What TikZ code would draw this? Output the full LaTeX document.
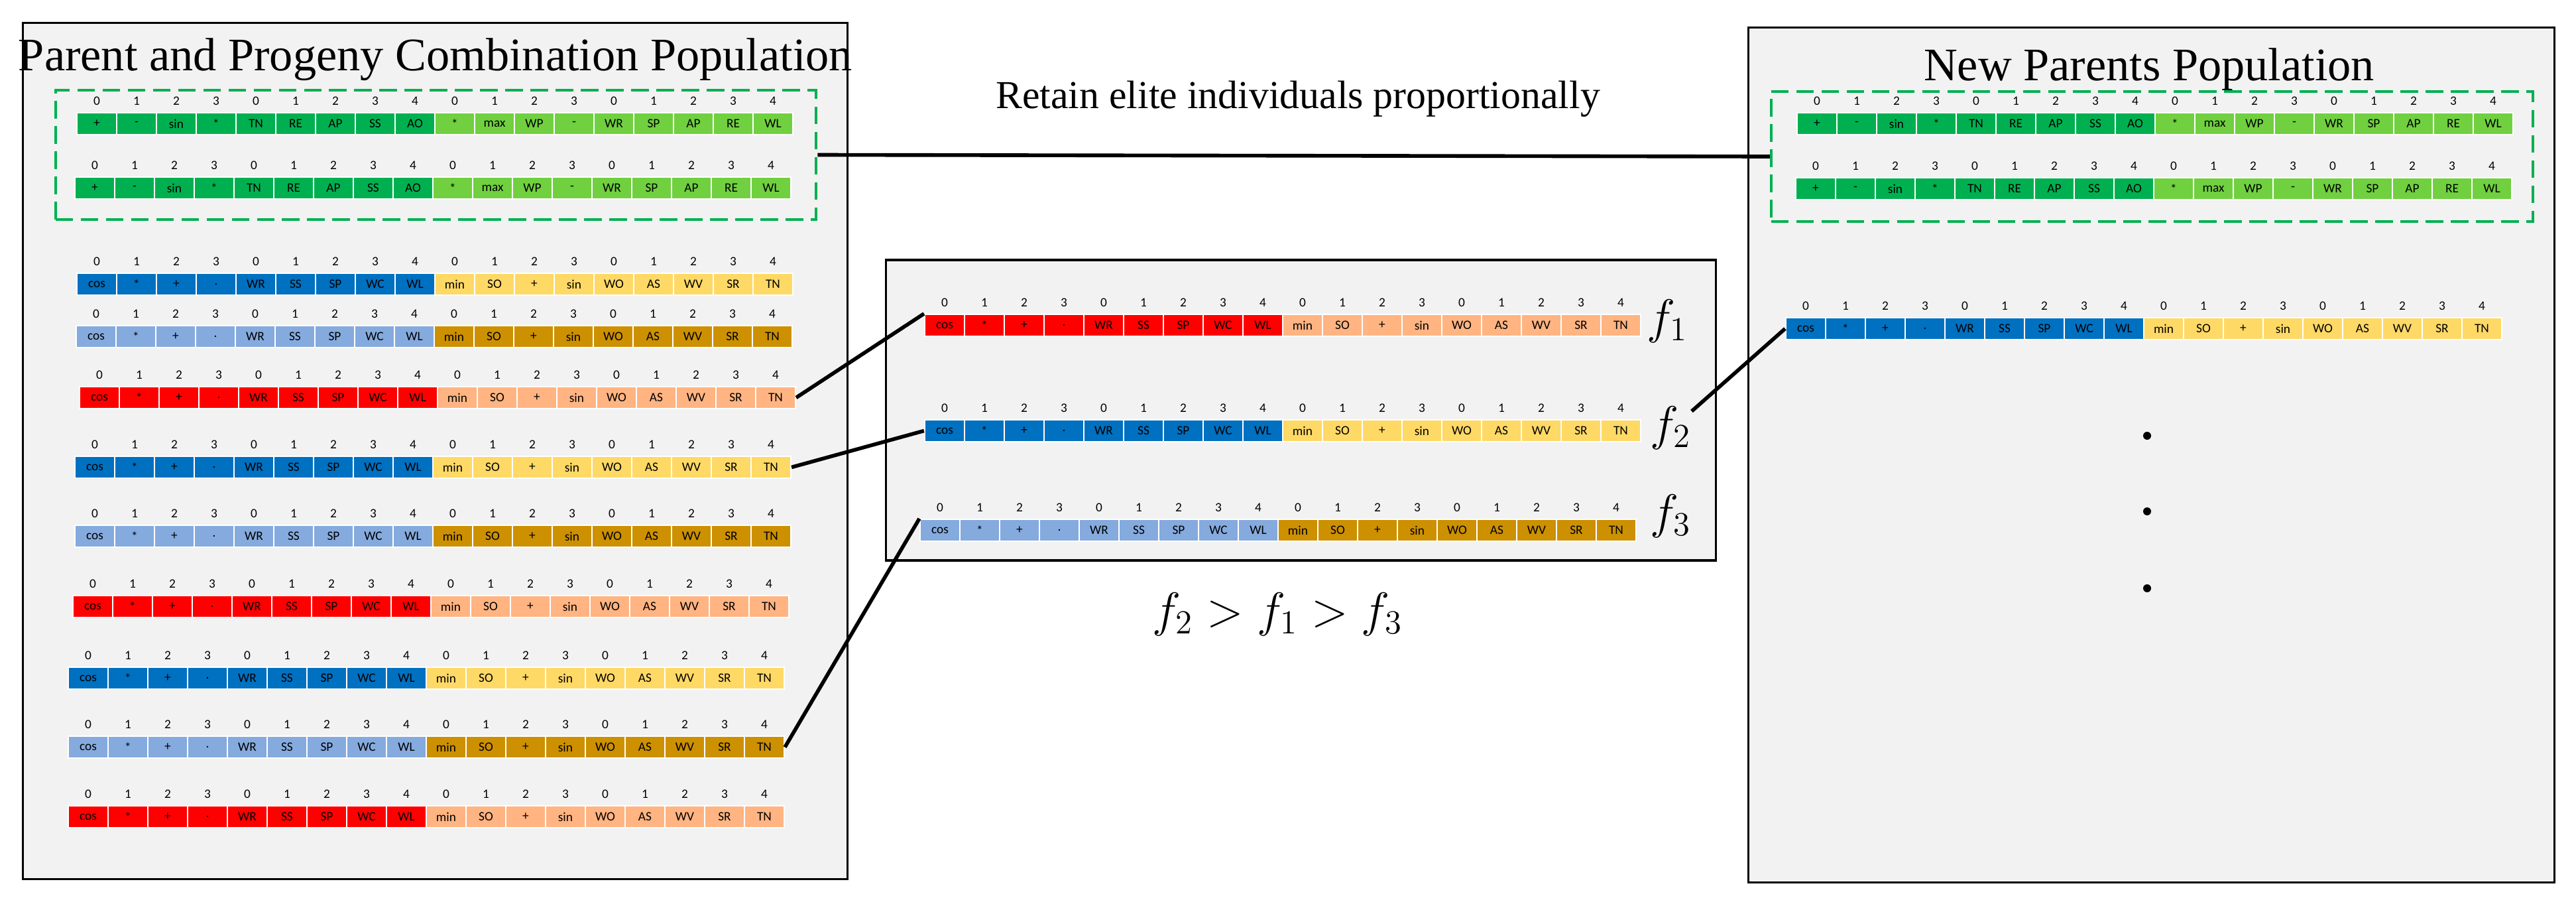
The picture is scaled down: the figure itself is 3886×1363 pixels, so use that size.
\documentclass[tikz,border=0pt]{standalone}
\usepackage{fontspec}
\setmainfont{Liberation Serif}
\newfontfamily\cellfont{Carlito}
\definecolor{gA}{RGB}{0,176,80}
\definecolor{gB}{RGB}{112,208,64}
\definecolor{bA}{RGB}{0,112,192}
\definecolor{bB}{RGB}{255,217,102}
\definecolor{lA}{RGB}{133,170,222}
\definecolor{lB}{RGB}{204,144,0}
\definecolor{rA}{RGB}{255,0,0}
\definecolor{rB}{RGB}{255,180,130}
\definecolor{panel}{RGB}{242,242,242}
\definecolor{dgreen}{RGB}{0,176,80}
\def\glabels{+,-,sin,*,TN,RE,AP,SS,AO,*,max,WP,-,WR,SP,AP,RE,WL}
\def\olabels{cos,*,+,.,WR,SS,SP,WC,WL,min,SO,+,sin,WO,AS,WV,SR,TN}
\def\idxlist{0,1,2,3,0,1,2,3,4,0,1,2,3,0,1,2,3,4}
% #1 name, #2 x, #3 ytop, #4 colour prefix, #5 labels
\newcommand\chromrow[5]{%
  \foreach \t [count=\i] in #5 {%
    \ifnum\i<10 \def\cc{#4A}\else\def\cc{#4B}\fi
    \node[cell, fill=\cc] (#1-\i) at ({#2+\i*60-30},{#3+16.5}) {\t};
  }%
  \foreach \t [count=\i] in \idxlist {%
    \node[idx] at ({#2+\i*60-30},{#3-18}) {\t};
  }%
}
\begin{document}
\begin{tikzpicture}[x=0.01cm,y=-0.01cm,
  cell/.style={draw=white,line width=0.6pt,minimum width=0.6cm,minimum height=0.33cm,inner sep=0pt,font=\cellfont\fontsize{5.5}{6}\selectfont},
  idx/.style={inner sep=0pt,font=\cellfont\fontsize{5.5}{6}\selectfont},
  panelbox/.style={draw=black,line width=1pt,fill=panel,inner sep=0pt},
  elite/.style={draw=dgreen,line width=1.1pt,dash pattern=on 7.6pt off 3.2pt,inner sep=0pt},
  conn/.style={draw=black,line width=1.6pt},
  title/.style={font=\fontsize{20}{24}\selectfont,inner sep=0pt},
  flab/.style={font=\fontsize{22}{26}\selectfont,inner sep=0pt}]
\useasboundingbox (0,0) rectangle (3886,1363);
% panels
\node[panelbox,minimum width=12.43cm,minimum height=12.90cm] (left) at (656.5,680) {};
\node[panelbox,minimum width=12.51cm,minimum height=4.53cm] (mid) at (1962.5,618.5) {};
\node[panelbox,minimum width=12.15cm,minimum height=12.88cm] (right) at (3245.5,686) {};
\node[title] (lt) at (657,90) {Parent and Progeny Combination Population};
\node[title] (rt) at (3242,105) {New Parents Population};
\node[title,font=\fontsize{17}{20}\selectfont] (ret) at (1958,149) {Retain elite individuals proportionally};
% elite boxes
\node[elite,minimum width=11.47cm,minimum height=1.95cm] (le) at (657.5,233.5) {};
\node[elite,minimum width=11.49cm,minimum height=1.96cm] (re) at (3246.5,236) {};
% left rows
\chromrow{g1}{116}{170}{g}{\glabels}
\chromrow{g2}{113}{267}{g}{\glabels}
\chromrow{b1}{116}{412}{b}{\olabels}
\chromrow{l1}{115}{491}{l}{\olabels}
\chromrow{r1}{120}{583}{r}{\olabels}
\chromrow{b2}{113}{688}{b}{\olabels}
\chromrow{l2}{113}{792}{l}{\olabels}
\chromrow{r2}{110}{898}{r}{\olabels}
\chromrow{b3}{103}{1006}{b}{\olabels}
\chromrow{l3}{103}{1110}{l}{\olabels}
\chromrow{r3}{103}{1215}{r}{\olabels}
% middle rows
\chromrow{f1}{1395}{474}{r}{\olabels}
\chromrow{f2}{1395}{633}{b}{\olabels}
\chromrow{f3}{1388}{783}{l}{\olabels}
\node[flab] (fa) at (2515,484) {$f_1$};
\node[flab] (fb) at (2520,645) {$f_2$};
\node[flab] (fc) at (2520,778) {$f_3$};
\node[flab] (ineq) at (1927,926) {$f_2 > f_1 > f_3$};
% right rows
\chromrow{n1}{2711}{170}{g}{\glabels}
\chromrow{n2}{2709}{268}{g}{\glabels}
\chromrow{nb}{2694}{479}{b}{\olabels}
\foreach \yy [count=\k] in {657,771,887} \fill (3239,\yy) circle (0.06cm) coordinate (dot\k);
% connectors
\draw[conn] (le.east) -- (re.west);
\draw[conn] (r1-18.east) -- (f1-1.north west);
\draw[conn] (b2-18.east) -- (f2-1.west);
\draw[conn] (l3-18.east) -- (f3-1.north west);
\coordinate (fbout) at (2552,620);
\draw[conn] (fbout) -- (nb-1.west);
\end{tikzpicture}
\end{document}
